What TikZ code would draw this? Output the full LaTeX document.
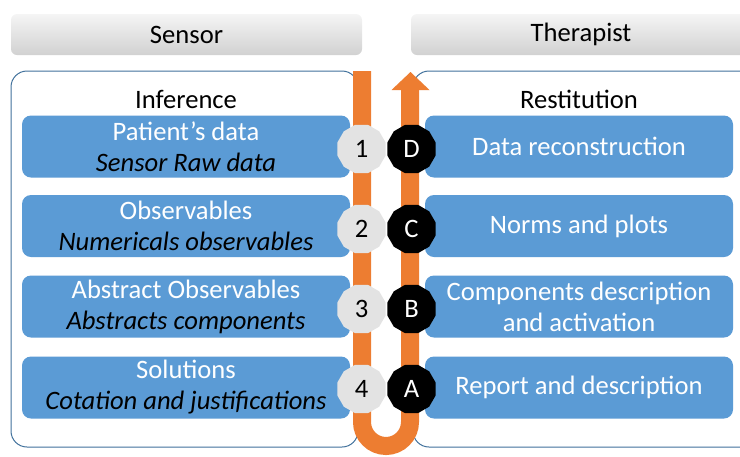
\documentclass[tikz,border=0pt]{standalone}
\usepackage{fontspec}
\setmainfont{Carlito}
\usetikzlibrary{shapes.geometric}

\definecolor{boxblue}{HTML}{5B9BD5}
\definecolor{panelline}{HTML}{41719C}
\definecolor{flow}{HTML}{ED7D31}
\definecolor{dotgray}{HTML}{E3E3E3}

\tikzset{
  txt/.style={font=\fontsize{26.6}{31}\selectfont},
  header/.style={txt, rounded corners=6pt, top color=gray!8, bottom color=gray!36,
    draw=none, minimum height=41pt, inner sep=0pt},
  panel/.style={draw=panelline, line width=1pt, rounded corners=16pt, fill=white,
    minimum height=376pt, inner sep=0pt},
  item/.style={txt, fill=boxblue, rounded corners=9pt, draw=none, minimum height=62pt,
    inner sep=0pt, align=center, text=white},
  leftitem/.style={item, minimum width=328pt},
  rightitem/.style={item, minimum width=308pt},
  dot/.style={txt, regular polygon, regular polygon sides=12, minimum size=50pt,
    inner sep=0pt, draw=none},
  numdot/.style={dot, fill=dotgray, text=black},
  letdot/.style={dot, fill=black, text=white},
  title/.style={txt, text=black}
}

\begin{document}
\begin{tikzpicture}[x=1pt,y=-1pt]
\useasboundingbox (0,0) rectangle (740,456);
\clip (0,0) rectangle (740,456);

% column headers
\node[header, minimum width=351pt] (hsensor) at (186.5,34.5) {Sensor};
\node[header, minimum width=340pt] (htherapist) at (581,34.5) {Therapist};

% panels
\node[panel, minimum width=347pt] (pleft) at (184.5,259) {};
\node[panel, minimum width=350pt] (pright) at (588,259) {};
\node[title] (tinf) at (186,99) {Inference};
\node[title] (trest) at (579,99) {Restitution};

% U-shaped flow from the sensor side to the therapist side
\coordinate (ustart) at (362,71);
\coordinate (ubl) at (362,446);
\coordinate (ubr) at (410,446);
\coordinate (uend) at (410,90);
\draw[flow, line width=18pt, rounded corners=24pt] (ustart) -- (ubl) -- (ubr) -- (uend);
\fill[flow] (391.5,90) -- (429.5,90) -- (410.5,72) -- cycle;

% inference steps
\node[leftitem] (l1) at (186,146.5) {Patient’s data\\\textcolor{black}{\itshape Sensor Raw data}};
\node[leftitem] (l2) at (186,226) {Observables\\\textcolor{black}{\itshape Numericals observables}};
\node[leftitem] (l3) at (186,306.5) {Abstract Observables\\\textcolor{black}{\itshape Abstracts components}};
\node[leftitem] (l4) at (186,387.5) {Solutions\\\textcolor{black}{\itshape Cotation and justifications}};

% restitution steps
\node[rightitem] (r1) at (579,146.5) {Data reconstruction};
\node[rightitem] (r2) at (579,226) {Norms and plots};
\node[rightitem] (r3) at (579,306.5) {Components description\\and activation};
\node[rightitem] (r4) at (579,387.5) {Report and description};

% step markers
\node[numdot] (n1) at (361.5,149) {1};
\node[numdot] (n2) at (361.5,229) {2};
\node[numdot] (n3) at (361.5,309) {3};
\node[numdot] (n4) at (361.5,389) {4};
\node[letdot] (a1) at (411.5,149) {D};
\node[letdot] (a2) at (411.5,229) {C};
\node[letdot] (a3) at (411.5,309) {B};
\node[letdot] (a4) at (411.5,389) {A};
\end{tikzpicture}
\end{document}
